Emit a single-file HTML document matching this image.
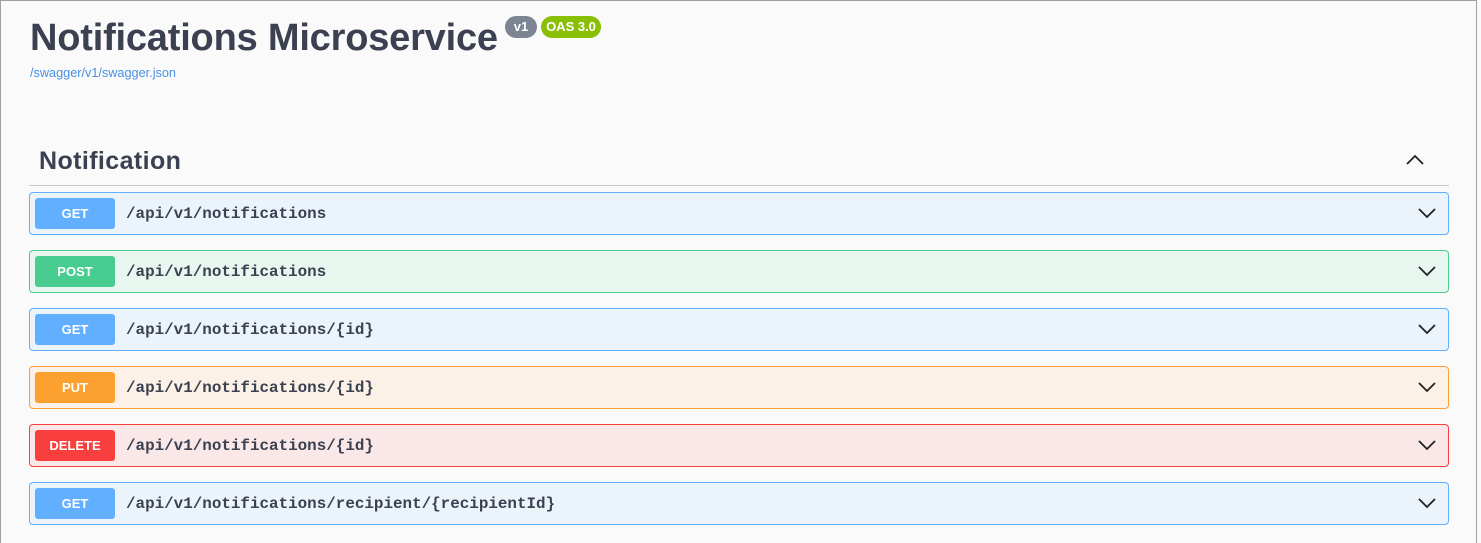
<!DOCTYPE html>
<html><head><style>
*{box-sizing:border-box;margin:0;padding:0}
html,body{width:1481px;height:543px;overflow:hidden;background:#fafafa}
body{font-family:"Liberation Sans",sans-serif;color:#3b4151;position:relative}
.frame{position:absolute;left:0;top:0;width:1477px;height:543px;border:1px solid #a0a0a0;border-bottom:none}
h1{position:absolute;left:30px;top:15px;font-size:38px;font-weight:bold;line-height:46px;letter-spacing:-0.2px}
.b{position:absolute;top:16px;height:22px;border-radius:11px;color:#fff;font-size:13px;font-weight:bold;line-height:22px;text-align:center}
.link{position:absolute;left:30px;top:66px;font-size:12.7px;color:#4990e2}
h2{position:absolute;left:39px;top:146px;font-size:25px;font-weight:bold;line-height:30px;letter-spacing:0.4px}
.hr{position:absolute;left:29px;top:185px;width:1420px;height:1px;background:#c8c8c8}
.row{position:absolute;left:29px;width:1420px;height:43px;border:1px solid;border-radius:4px}
.m{position:absolute;left:5px;top:5px;width:80px;height:31px;border-radius:3px;color:#fff;font-size:13px;font-weight:bold;text-align:center;line-height:31px}
.p{position:absolute;left:96px;top:1px;line-height:41px;font-family:"Liberation Mono",monospace;font-weight:bold;font-size:15.9px;color:#3b4151}
.ch{position:absolute;right:12px;top:14px}
.get{background:#ebf3fb;border-color:#61affe}.get .m{background:#61affe}
.post{background:#e8f6f0;border-color:#49cc90}.post .m{background:#49cc90}
.put{background:#fbf1e6;border-color:#fca130}.put .m{background:#fca130}
.del{background:#fae7e7;border-color:#f93e3e}.del .m{background:#f93e3e}
</style></head><body>
<div class="frame"></div>
<h1>Notifications Microservice</h1>
<div class="b" style="left:505px;width:32px;background:#7d8492">v1</div>
<div class="b" style="left:541px;width:60px;background:#89bf04">OAS 3.0</div>
<div class="link">/swagger/v1/swagger.json</div>
<h2>Notification</h2>
<svg style="position:absolute;left:1405px;top:154px" width="20" height="12"><path d="M2 10 L10 2 L18 10" fill="none" stroke="#222" stroke-width="1.8"/></svg>
<div class="hr"></div>
<div class="row get" style="top:192px"><div class="m">GET</div><div class="p">/api/v1/notifications</div><svg class="ch" width="18" height="12" viewBox="0 0 18 12"><path d="M1 2 L9 10 L17 2" fill="none" stroke="#222" stroke-width="1.8"/></svg></div>
<div class="row post" style="top:250px"><div class="m">POST</div><div class="p">/api/v1/notifications</div><svg class="ch" width="18" height="12" viewBox="0 0 18 12"><path d="M1 2 L9 10 L17 2" fill="none" stroke="#222" stroke-width="1.8"/></svg></div>
<div class="row get" style="top:308px"><div class="m">GET</div><div class="p">/api/v1/notifications/{id}</div><svg class="ch" width="18" height="12" viewBox="0 0 18 12"><path d="M1 2 L9 10 L17 2" fill="none" stroke="#222" stroke-width="1.8"/></svg></div>
<div class="row put" style="top:366px"><div class="m">PUT</div><div class="p">/api/v1/notifications/{id}</div><svg class="ch" width="18" height="12" viewBox="0 0 18 12"><path d="M1 2 L9 10 L17 2" fill="none" stroke="#222" stroke-width="1.8"/></svg></div>
<div class="row del" style="top:424px"><div class="m">DELETE</div><div class="p">/api/v1/notifications/{id}</div><svg class="ch" width="18" height="12" viewBox="0 0 18 12"><path d="M1 2 L9 10 L17 2" fill="none" stroke="#222" stroke-width="1.8"/></svg></div>
<div class="row get" style="top:482px"><div class="m">GET</div><div class="p">/api/v1/notifications/recipient/{recipientId}</div><svg class="ch" width="18" height="12" viewBox="0 0 18 12"><path d="M1 2 L9 10 L17 2" fill="none" stroke="#222" stroke-width="1.8"/></svg></div>
</body></html>
